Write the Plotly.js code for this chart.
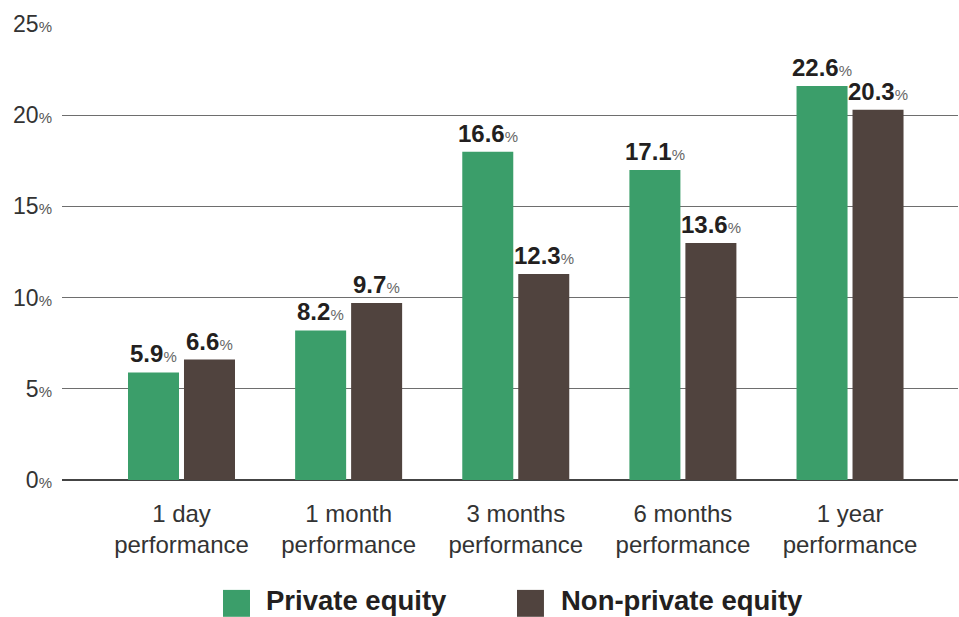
<!DOCTYPE html>
<html>
<head>
<meta charset="utf-8">
<script src="https://cdn.plot.ly/plotly-3.0.1.min.js"></script>
<style>
  html, body { margin: 0; padding: 0; background: #fff; }
  #chart { width: 959px; height: 617px; }
</style>
</head>
<body>
<div id="chart"></div>
<script>
/* private vs non-private equity performance — grouped bars */
const categories = ["1 day<br>performance", "1 month<br>performance", "3 months<br>performance",
                    "6 months<br>performance", "1 year<br>performance"];
const seriesNames = ["Private equity", "Non-private equity"];
// bar heights as drawn in the picture
const privateBars = [5.9, 8.2, 18.0, 17.0, 21.6];
const nonPrivateBars = [6.6, 9.7, 11.3, 13.0, 20.3];
// printed labels (they do not always match the drawn heights)
const privateLabels = ["5.9", "8.2", "16.6", "17.1", "22.6"];
const nonPrivateLabels = ["6.6", "9.7", "12.3", "13.6", "20.3"];
const yTicks = [0, 5, 10, 15, 20, 25];

const GREEN = "#3b9e6a", BROWN = "#50433e";
const FONT = "Liberation Sans, Arial, sans-serif";
const pct = (v, sz, col) => `${v}<span style="font-size:${sz}px;color:${col}">%</span>`;
const barLabel = v => `<b>${v}</b><span style="font-size:15px;color:#666">%</span>`;

function barTrace(name, y, color) {
  return {
    type: "bar", name, x: categories, y,
    marker: { color }, hoverinfo: "skip", showlegend: false,
  };
}

const traces = [
  barTrace(seriesNames[0], privateBars, GREEN),
  barTrace(seriesNames[1], nonPrivateBars, BROWN),
];

// value labels sit above each bar (bars are ±28px off the group centre)
function valueLabels(ys, labels, shift) {
  return ys.map((v, i) => ({
    x: categories[i], y: v, xref: "x", yref: "y",
    xshift: shift, yshift: 3, xanchor: "center", yanchor: "bottom",
    showarrow: false, text: barLabel(labels[i]),
    font: { family: FONT, size: 24, color: "#231f20" },
  }));
}

// legend drawn by hand so the swatches can be large
const legendItems = [
  { name: seriesNames[0], color: GREEN, x0: 0.1797, x1: 0.2098, tx: 0.2266 },
  { name: seriesNames[1], color: BROWN, x0: 0.5078, x1: 0.5379, tx: 0.5558 },
];

const layout = {
  width: 959, height: 617,
  margin: { l: 62, r: 1, t: 24, b: 137 },
  paper_bgcolor: "#fff", plot_bgcolor: "#fff",
  font: { family: FONT, color: "#333" },
  barmode: "group", bargap: 0.33, bargroupgap: 0.089,
  showlegend: false,
  xaxis: {
    type: "category", range: [-0.715, 4.646],
    showgrid: false, zeroline: false, showline: false,
    ticks: "", ticklabelstandoff: 17,
    tickfont: { family: FONT, size: 24, color: "#333" },
  },
  yaxis: {
    range: [0, 25], fixedrange: true,
    tickvals: yTicks, ticktext: yTicks.map(v => pct(v, 15, "#555")),
    tickfont: { family: FONT, size: 23, color: "#333" },
    showgrid: true, gridcolor: "#6e6e6e", gridwidth: 1,
    zeroline: true, zerolinecolor: "#444", zerolinewidth: 2,
    showline: false, ticks: "", ticklabelstandoff: 9,
  },
  shapes: legendItems.map(it => ({
    type: "rect", xref: "paper", yref: "paper",
    x0: it.x0, x1: it.x1, y0: -0.300, y1: -0.241,
    fillcolor: it.color, line: { width: 0 },
  })),
  annotations: [
    ...valueLabels(privateBars, privateLabels, -28),
    ...valueLabels(nonPrivateBars, nonPrivateLabels, 28),
    ...legendItems.map(it => ({
      xref: "paper", yref: "paper", x: it.tx, y: -0.2995,
      xanchor: "left", yanchor: "bottom", showarrow: false, borderpad: 0,
      text: `<b>${it.name}</b>`,
      font: { family: FONT, size: 27.5, color: "#231f20" },
    })),
  ],
};

Plotly.newPlot("chart", traces, layout, { displayModeBar: false, staticPlot: true });
</script>
</body>
</html>
